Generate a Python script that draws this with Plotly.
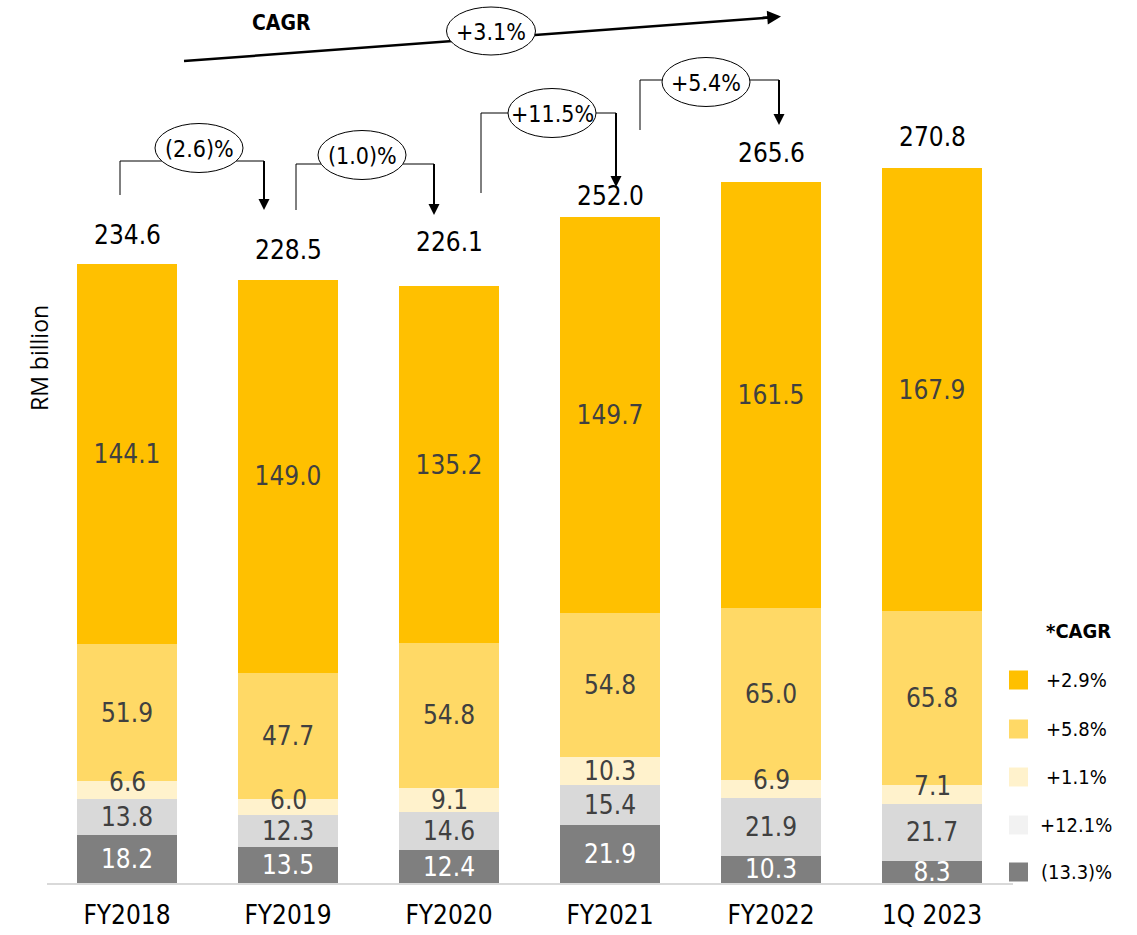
import plotly.graph_objects as go

W, H = 1137, 935

categories = ["FY2018", "FY2019", "FY2020", "FY2021", "FY2022", "1Q 2023"]
seg_a = [144.1, 149.0, 135.2, 149.7, 161.5, 167.9]   # +2.9%
seg_b = [51.9, 47.7, 54.8, 54.8, 65.0, 65.8]         # +5.8%
seg_c = [6.6, 6.0, 9.1, 10.3, 6.9, 7.1]              # +1.1%
seg_d = [13.8, 12.3, 14.6, 15.4, 21.9, 21.7]         # +12.1%
seg_e = [18.2, 13.5, 12.4, 21.9, 10.3, 8.3]          # (13.3)%
totals = [234.6, 228.5, 226.1, 252.0, 265.6, 270.8]
legend_labels = ["+2.9%", "+5.8%", "+1.1%", "+12.1%", "(13.3)%"]
yoy_labels = ["(2.6)%", "(1.0)%", "+11.5%", "+5.4%"]
cagr_label = "+3.1%"

# style: pixel nudges for labels
total_label_shift = [12, 13, 27, 5, 12, 14]
thin_label_shift = [8, 7, 0, 0, 9, 8]

colors = ["#FFC000", "#FFD966", "#FFF2CC", "#D9D9D9", "#7F7F7F"]
legend_colors = ["#FFC000", "#FFD966", "#FFF2CC", "#F2F2F2", "#7F7F7F"]
LABEL_FONT = "DejaVu Sans Condensed, Liberation Sans Narrow, DejaVu Sans, sans-serif"
LABEL_SIZE = 26

def px(x):
    return x / W

def py(y):
    return 1 - y / H

fig = go.Figure()
stack = [(seg_e, colors[4], "white", True), (seg_d, colors[3], "#404040", True),
         (seg_c, colors[2], "#404040", False), (seg_b, colors[1], "#404040", True),
         (seg_a, colors[0], "#404040", True)]
for vals, col, tcol, with_text in stack:
    fig.add_trace(go.Bar(
        x=categories, y=vals, marker=dict(color=col, line=dict(width=0)),
        text=[f"{v:.1f}" for v in vals] if with_text else None,
        textposition="inside" if with_text else "none",
        insidetextanchor="middle", constraintext="none",
        textfont=dict(family=LABEL_FONT, size=LABEL_SIZE, color=tcol),
        showlegend=False, hoverinfo="skip", width=0.62,
    ))

# labels of the thin +1.1% segment, placed at the segment centre
for c, e, d, v, s in zip(categories, seg_e, seg_d, seg_c, thin_label_shift):
    fig.add_annotation(x=c, y=e + d + v / 2, xref="x", yref="y", text=f"{v:.1f}",
                       showarrow=False, xanchor="center", yanchor="middle", yshift=s,
                       font=dict(family=LABEL_FONT, size=LABEL_SIZE, color="#404040"))

# totals above bars
for c, t, s in zip(categories, totals, total_label_shift):
    fig.add_annotation(x=c, y=t, xref="x", yref="y", text=f"{t:.1f}",
                       showarrow=False, xanchor="center", yanchor="bottom", yshift=s,
                       font=dict(family=LABEL_FONT, size=26, color="#000000"))

shapes = []
annos = []

def text_at(x, y, text, size, angle=0, family=LABEL_FONT):
    annos.append(dict(x=px(x), y=py(y), xref="paper", yref="paper", text=text,
                      showarrow=False, xanchor="center", yanchor="middle",
                      textangle=angle,
                      font=dict(family=family, size=size, color="#000000")))

def arrowhead(x, y, dx=0, dy=-22, width=2):
    annos.append(dict(x=px(x), y=py(y), xref="paper", yref="paper", text="",
                      showarrow=True, arrowhead=2, arrowsize=1.1, arrowwidth=width,
                      arrowcolor="#000000", ax=dx, ay=dy, axref="pixel", ayref="pixel"))

def ellipse(cx, cy, w, h, label):
    shapes.append(dict(type="circle", xref="paper", yref="paper",
                       x0=px(cx - w / 2), x1=px(cx + w / 2),
                       y0=py(cy + h / 2), y1=py(cy - h / 2),
                       fillcolor="white", line=dict(color="#000000", width=1)))
    text_at(cx, cy + 1, label, 23)

# CAGR long arrow
shapes.append(dict(type="line", xref="paper", yref="paper",
                   x0=px(184), y0=py(61), x1=px(770), y1=py(17.5),
                   line=dict(color="#000000", width=2.5)))
arrowhead(781, 16.5, dx=-20, dy=1.5, width=2.5)
ellipse(491, 31, 89, 48, cagr_label)
text_at(281, 23, "<b>CAGR</b>", 21)

# year-on-year brackets: (left x, bottom of left leg, top y, right x, arrow tip y, ellipse center)
brackets = [
    (120, 195, 161, 264, 210, (199, 148)),
    (296, 210, 164, 434, 215, (362, 155)),
    (481, 193, 113, 616, 187, (552, 113)),
    (640, 130, 80, 779, 125, (706, 82)),
]
for (xl, yb, yt, xr, ytip, (ecx, ecy)), lab in zip(brackets, yoy_labels):
    shapes.append(dict(type="path", xref="paper", yref="paper",
                       path=f"M {px(xl)},{py(yb)} L {px(xl)},{py(yt)} L {px(xr)},{py(yt)}",
                       line=dict(color="#000000", width=1)))
    shapes.append(dict(type="line", xref="paper", yref="paper",
                       x0=px(xr), y0=py(yt), x1=px(xr), y1=py(ytip - 12),
                       line=dict(color="#000000", width=2)))
    arrowhead(xr, ytip, dx=0, dy=-18, width=2)
    ellipse(ecx, ecy, 88, 49, lab)

# legend
text_at(1078, 631, "<b>*CAGR</b>", 20)
legend_rows = [680, 729, 777, 825, 872]
for ly, lab, col in zip(legend_rows, legend_labels, legend_colors):
    shapes.append(dict(type="rect", xref="paper", yref="paper",
                       x0=px(1009), x1=px(1028), y0=py(ly + 9.5), y1=py(ly - 9.5),
                       fillcolor=col, line=dict(width=0)))
    text_at(1076, ly, lab, 20)

# y-axis title
text_at(39, 358, "RM billion", 23, angle=-90, family="Open Sans, sans-serif")

for a in annos:
    fig.add_annotation(**a)

base_px = 883
top_val = base_px / 2.64
fig.update_layout(
    width=W, height=H, barmode="stack",
    margin=dict(l=0, r=0, t=0, b=0),
    plot_bgcolor="white", paper_bgcolor="white",
    shapes=shapes,
    xaxis=dict(domain=[px(46.5), px(1012.5)], range=[-0.5, 5.5],
               showline=True, linecolor="#D9D9D9", linewidth=2,
               showgrid=False, zeroline=False, ticks="", automargin=False,
               tickfont=dict(family=LABEL_FONT, size=26, color="#000000"),
               ticklabelstandoff=8),
    yaxis=dict(domain=[1 - base_px / H, 1], range=[0, top_val], visible=False,
               automargin=False),
    bargap=0.38,
)

fig.write_html("out.html")
